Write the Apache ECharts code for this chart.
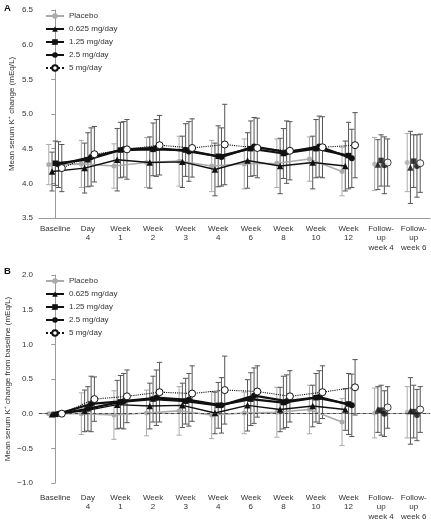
<!DOCTYPE html>
<html>
<head>
<meta charset="utf-8">
<script src="https://cdn.jsdelivr.net/npm/echarts@6/dist/echarts.min.js"></script>
<style>
html,body{margin:0;padding:0;background:#fff;}
#chart{width:431px;height:521px;}
</style>
</head>
<body>
<div id="chart"></div>
<script>
// ---- Data ----
const categories = ['Baseline', 'Day\n4', 'Week\n1', 'Week\n2', 'Week\n3', 'Week\n4', 'Week\n6', 'Week\n8', 'Week\n10', 'Week\n12', 'Follow-\nup\nweek 4', 'Follow-\nup\nweek 6'];
const seriesNames = ['Placebo', '0.625 mg/day', '1.25 mg/day', '2.5 mg/day', '5 mg/day'];
const ticksA = [3.5, 4.0, 4.5, 5.0, 5.5, 6.0, 6.5];
const ticksB = [-1.0, -0.5, 0.0, 0.5, 1.0, 1.5, 2.0];

// Panel A: mean serum K+ (mEq/L)
const placeboA = [4.27, 4.28, 4.25, 4.30, 4.32, 4.25, 4.28, 4.29, 4.35, 4.17, 4.28, 4.30];
const dose0625A = [4.17, 4.22, 4.34, 4.30, 4.31, 4.20, 4.33, 4.25, 4.30, 4.25, 4.27, 4.23];
const dose125A = [4.29, 4.34, 4.48, 4.49, 4.48, 4.39, 4.50, 4.43, 4.50, 4.40, 4.33, 4.32];
const dose25A = [4.27, 4.38, 4.49, 4.51, 4.46, 4.38, 4.53, 4.45, 4.53, 4.36, 4.26, 4.25];
const dose5A = [4.22, 4.42, 4.49, 4.55, 4.51, 4.56, 4.51, 4.47, 4.52, 4.55, 4.30, 4.29];
const placeboSdA = [0.29, 0.34, 0.32, 0.36, 0.36, 0.37, 0.36, 0.35, 0.32, 0.35, 0.38, 0.42];
const dose0625SdA = [0.28, 0.36, 0.45, 0.37, 0.37, 0.38, 0.40, 0.40, 0.38, 0.36, 0.36, 0.52];
const dose125SdA = [0.32, 0.39, 0.40, 0.38, 0.38, 0.44, 0.40, 0.36, 0.42, 0.48, 0.37, 0.38];
const dose25SdA = [0.33, 0.42, 0.40, 0.41, 0.43, 0.42, 0.42, 0.45, 0.44, 0.42, 0.41, 0.45];
const dose5SdA = [0.34, 0.40, 0.43, 0.43, 0.42, 0.58, 0.43, 0.42, 0.44, 0.47, 0.34, 0.42];

// Panel B: mean change from baseline (mEq/L)
const placeboB = [0.00, 0.00, -0.02, 0.01, 0.04, -0.02, 0.01, 0.02, 0.06, -0.12, 0.01, 0.02];
const dose0625B = [-0.01, 0.04, 0.13, 0.11, 0.12, 0.01, 0.12, 0.06, 0.11, 0.06, 0.06, 0.04];
const dose125B = [-0.01, 0.07, 0.17, 0.21, 0.18, 0.12, 0.21, 0.16, 0.23, 0.14, 0.05, 0.03];
const dose25B = [0.00, 0.14, 0.18, 0.23, 0.20, 0.12, 0.26, 0.18, 0.24, 0.12, 0.00, -0.02];
const dose5B = [0.00, 0.21, 0.25, 0.31, 0.29, 0.34, 0.32, 0.25, 0.31, 0.38, 0.09, 0.06];
const placeboSdB = [0, 0.30, 0.35, 0.33, 0.35, 0.34, 0.30, 0.36, 0.35, 0.34, 0.36, 0.37];
const dose0625SdB = [0, 0.30, 0.35, 0.33, 0.32, 0.30, 0.37, 0.32, 0.30, 0.30, 0.33, 0.48];
const dose125SdB = [0, 0.32, 0.38, 0.33, 0.33, 0.33, 0.38, 0.38, 0.35, 0.44, 0.36, 0.38];
const dose25SdB = [0, 0.40, 0.40, 0.40, 0.38, 0.40, 0.40, 0.38, 0.38, 0.45, 0.33, 0.37];
const dose5SdB = [0, 0.32, 0.38, 0.43, 0.40, 0.49, 0.37, 0.37, 0.38, 0.40, 0.30, 0.33];

const meansA = [placeboA, dose0625A, dose125A, dose25A, dose5A];
const sdsA = [placeboSdA, dose0625SdA, dose125SdA, dose25SdA, dose5SdA];
const meansB = [placeboB, dose0625B, dose125B, dose25B, dose5B];
const sdsB = [placeboSdB, dose0625SdB, dose125SdB, dose25SdB, dose5SdB];

// ---- Styles ----
const FONT = 'Liberation Sans, Arial, sans-serif';
const AXIS_COLOR = '#9a9a9a';
const TEXT_COLOR = '#333';
const GRAY = '#ababab';
const FS = 8;
const dodge = [-0.2, -0.1, 0, 0.1, 0.2];
const styles = [
  {symbol: 'circle', size: 5, color: GRAY, width: 1.6, type: 'solid', bar: GRAY, open: false},
  {symbol: 'triangle', size: 6.5, color: '#111', width: 1.4, type: 'solid', bar: '#555', open: false},
  {symbol: 'rect', size: 5.5, color: '#111', width: 2.2, type: 'solid', bar: '#555', open: false},
  {symbol: 'circle', size: 6, color: '#111', width: 2.2, type: 'solid', bar: '#555', open: false},
  {symbol: 'circle', size: 7, color: '#111', width: 1.1, type: 'dotted', bar: '#555', open: true}
];
const nFixed = 10; // Baseline..Week 12 connected

const grids = [
  {left: 39, top: 10, width: 391, height: 208, containLabel: false, outerBoundsMode: 'none'},
  {left: 39, top: 275, width: 391, height: 208, containLabel: false, outerBoundsMode: 'none'}
];

function fmtTick(v) {
  return v.toFixed(1).replace('-', '\u2212');
}

const xAxes = [];
const yAxes = [];
const series = [];
const panels = [
  {means: meansA, sds: sdsA, ticks: ticksA, name: 'Mean serum K\u207A change (mEq/L)', labelMargin: 6, nameGap: 23},
  {means: meansB, sds: sdsB, ticks: ticksB, name: 'Mean serum K\u207A change from baseline (mEq/L)', labelMargin: 10, nameGap: 27}
];

panels.forEach((p, gi) => {
  xAxes.push({
    type: 'category', gridIndex: gi, data: categories, boundaryGap: true,
    axisLine: {lineStyle: {color: AXIS_COLOR, width: 1}},
    axisTick: {alignWithLabel: true, length: 4, lineStyle: {color: AXIS_COLOR}},
    axisLabel: {interval: 0, fontFamily: FONT, fontSize: FS, lineHeight: 9.5, color: TEXT_COLOR, margin: p.labelMargin, hideOverlap: false},
    splitLine: {show: false}
  });
  xAxes.push({
    type: 'value', gridIndex: gi, min: -0.5, max: categories.length - 0.5, show: false
  });
  yAxes.push({
    type: 'value', gridIndex: gi,
    min: p.ticks[0], max: p.ticks[p.ticks.length - 1], interval: 0.5,
    name: p.name, nameLocation: 'middle', nameGap: p.nameGap, nameRotate: 90, nameMoveOverlap: false,
    nameTextStyle: {fontFamily: FONT, fontSize: FS, color: TEXT_COLOR},
    axisLine: {show: true, lineStyle: {color: AXIS_COLOR, width: 1}},
    axisTick: {show: true, length: 4, lineStyle: {color: AXIS_COLOR}},
    axisLabel: {fontFamily: FONT, fontSize: FS, color: TEXT_COLOR, margin: 6, formatter: fmtTick},
    splitLine: {show: false}
  });

  const xIdx = gi * 2 + 1;
  // error bars
  const barData = [];
  p.means.forEach((arr, k) => {
    arr.forEach((v, i) => {
      const sd = p.sds[k][i];
      if (sd > 0) barData.push([i + dodge[k], v - sd, v + sd, k]);
    });
  });
  series.push({
    type: 'custom', xAxisIndex: xIdx, yAxisIndex: gi, z: 1, silent: true,
    data: barData,
    encode: {x: 0, y: [1, 2]},
    renderItem: function (params, api) {
      const x = api.value(0);
      const lo = api.coord([x, api.value(1)]);
      const hi = api.coord([x, api.value(2)]);
      const k = api.value(3);
      const col = styles[k].bar;
      const cap = 2.6;
      const st = {stroke: col, lineWidth: 1, fill: null};
      return {
        type: 'group',
        children: [
          {type: 'line', shape: {x1: lo[0], y1: lo[1], x2: hi[0], y2: hi[1]}, style: st},
          {type: 'line', shape: {x1: lo[0] - cap, y1: lo[1], x2: lo[0] + cap, y2: lo[1]}, style: st},
          {type: 'line', shape: {x1: hi[0] - cap, y1: hi[1], x2: hi[0] + cap, y2: hi[1]}, style: st}
        ]
      };
    }
  });

  p.means.forEach((arr, k) => {
    const s = styles[k];
    const lineData = arr.slice(0, nFixed).map((v, i) => [i + dodge[k], v]);
    const fuData = arr.slice(nFixed).map((v, j) => [nFixed + j + dodge[k], v]);
    const common = {
      name: seriesNames[k], xAxisIndex: xIdx, yAxisIndex: gi,
      symbol: s.symbol, symbolSize: s.size,
      itemStyle: s.open ? {color: '#fff', borderColor: s.color, borderWidth: 1}
                        : {color: s.color, borderWidth: 0},
      z: 3 + k, silent: true, animation: false
    };
    const lineSeries = Object.assign({}, common, {
      type: 'line', data: lineData, showSymbol: true,
      lineStyle: {color: s.color, width: s.width, type: s.type}
    });
    if (gi === 1 && k === 0) {
      lineSeries.markLine = {
        silent: true, symbol: 'none', label: {show: false},
        lineStyle: {color: '#333', width: 0.8, type: [3, 3]},
        data: [{yAxis: 0}]
      };
    }
    series.push(lineSeries);
    series.push(Object.assign({}, common, {type: 'scatter', data: fuData}));
  });
});

const legendCommon = {
  orient: 'vertical', left: 45, padding: 0, itemWidth: 18, itemHeight: 7, itemGap: 2,
  textStyle: {fontFamily: FONT, fontSize: FS, lineHeight: 11, color: TEXT_COLOR},
  data: seriesNames, selectedMode: false
};

const option = {
  animation: false,
  backgroundColor: '#fff',
  grid: grids,
  xAxis: xAxes,
  yAxis: yAxes,
  legend: [
    Object.assign({}, legendCommon, {top: 10.5}),
    Object.assign({}, legendCommon, {top: 275.5})
  ],
  graphic: [
    {type: 'text', left: 4, top: 3, style: {text: 'A', font: 'bold 9.5px ' + FONT, fill: '#111'}},
    {type: 'text', left: 4, top: 266, style: {text: 'B', font: 'bold 9.5px ' + FONT, fill: '#111'}}
  ],
  series: series
};

const chart = echarts.init(document.getElementById('chart'), null, {renderer: 'canvas'});
chart.setOption(option);
</script>
</body>
</html>
